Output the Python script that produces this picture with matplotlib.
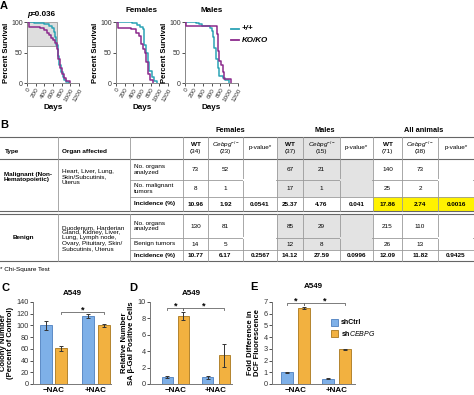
import matplotlib
matplotlib.use('Agg')
import matplotlib.pyplot as plt
from matplotlib.patches import Rectangle
from matplotlib.lines import Line2D
import numpy as np

plt.rcParams['font.family'] = ['Liberation Sans', 'DejaVu Sans']
plt.rcParams['mathtext.fontset'] = 'custom'
plt.rcParams['mathtext.rm'] = 'Liberation Sans'
plt.rcParams['mathtext.it'] = 'Liberation Sans:italic'
plt.rcParams['mathtext.bf'] = 'Liberation Sans:bold'

# ---- panel A: survival curves (days, percent surviving) ----
all_wt_days = [0, 150, 400, 500, 580, 620, 650, 680, 710, 740, 780, 820, 860, 900, 960]
all_wt_surv = [100, 98, 96, 94, 90, 84, 75, 62, 45, 30, 18, 10, 5, 2, 0]
all_ko_days = [0, 40, 300, 400, 450, 500, 550, 600, 650, 690, 720, 760, 800, 850, 900, 1000]
all_ko_surv = [100, 92, 90, 87, 82, 78, 73, 70, 66, 55, 40, 25, 15, 8, 3, 0]
fem_wt_days = [0, 380, 480, 560, 620, 650, 690, 730, 770, 820, 880, 950]
fem_wt_surv = [100, 98, 95, 91, 88, 62, 50, 35, 20, 10, 3, 0]
fem_ko_days = [0, 40, 350, 450, 520, 580, 620, 660, 700, 740, 780, 850]
fem_ko_surv = [100, 90, 88, 82, 77, 64, 56, 50, 35, 15, 5, 0]
mal_wt_days = [0, 250, 320, 380, 560, 600, 630, 660, 700, 740, 780, 850, 900, 1000]
mal_wt_surv = [100, 98, 96, 94, 90, 85, 75, 58, 40, 25, 12, 8, 5, 0]
mal_ko_days = [0, 20, 700, 720, 750, 780, 820, 850, 880, 1000, 1050]
mal_ko_surv = [100, 93, 93, 80, 52, 36, 30, 18, 7, 7, 0]

surv_titles = ['', 'Females', 'Males']
legend_labels = ['+/+', 'KO/KO']

# ---- panel B: tumour incidence table ----
groups = ['Females', 'Males', 'All animals']
n_wt = ['34', '37', '71']
n_ko = ['23', '15', '38']
malignant_wt = [['73', '8', '10.96'], ['67', '17', '25.37'], ['140', '25', '17.86']]
malignant_ko = [['52', '1', '1.92'], ['21', '1', '4.76'], ['73', '2', '2.74']]
malignant_p = ['0.0541', '0.041', '0.0016']
benign_wt = [['130', '14', '10.77'], ['85', '12', '14.12'], ['215', '26', '12.09']]
benign_ko = [['81', '5', '6.17'], ['29', '8', '27.59'], ['110', '13', '11.82']]
benign_p = ['0.2567', '0.0996', '0.9425']

# ---- panels C-E: A549 bars ----
nac = ['\u2212NAC', '+NAC']
c_ctrl, c_ctrl_err = [100, 116], [7, 4]
c_ko, c_ko_err = [61, 100], [4, 3]
d_ctrl, d_ctrl_err = [0.9, 0.8], [0.12, 0.22]
d_ko, d_ko_err = [8.3, 3.5], [0.45, 1.4]
e_ctrl, e_ctrl_err = [1.0, 0.45], [0.03, 0.05]
e_ko, e_ko_err = [6.5, 2.95], [0.06, 0.05]

teal = '#2ba3b5'
purple = '#8b2a8c'
blue, blue_e = '#7eb0e8', '#4d7fbf'
orange, orange_e = '#f2b140', '#a8771c'
grid_c = '#9a9a9a'

W, H = 474, 395
fig = plt.figure(figsize=(W / 100, H / 100), dpi=100)


def rect(x0, y0, x1, y1):
    return [x0 / W, 1 - y1 / H, (x1 - x0) / W, (y1 - y0) / H]


ov = fig.add_axes([0, 0, 1, 1])
ov.set_xlim(0, W)
ov.set_ylim(H, 0)
ov.axis('off')
ov.set_zorder(10)
ov.patch.set_alpha(0)

# ---------------- A ----------------
surv = [(all_wt_days, all_wt_surv, all_ko_days, all_ko_surv),
        (fem_wt_days, fem_wt_surv, fem_ko_days, fem_ko_surv),
        (mal_wt_days, mal_wt_surv, mal_ko_days, mal_ko_surv)]
xs = [(27, 79), (116, 168), (185, 238)]
for i, (wd, ws, kd, ks) in enumerate(surv):
    ax = fig.add_axes(rect(xs[i][0], 22, xs[i][1], 83))
    if i == 0:
        ax.add_patch(Rectangle((0, 60), 700, 40, facecolor='#dedede',
                               edgecolor='#999999', lw=0.6, zorder=0))
    ax.step(wd, ws, where='post', color=teal, lw=1.1, zorder=3)
    ax.step(kd, ks, where='post', color=purple, lw=1.1, zorder=3)
    ax.set_xlim(0, 1200)
    ax.set_ylim(0, 100)
    ax.set_xticks(range(0, 1201, 200))
    ax.set_yticks([0, 50, 100])
    ax.set_xticklabels([str(v) for v in range(0, 1201, 200)], rotation=60,
                       ha='right', rotation_mode='anchor', fontsize=4.6)
    ax.tick_params(axis='y', labelsize=5, length=2, width=0.6, pad=1, colors='#333333')
    ax.tick_params(axis='x', length=2, width=0.6, pad=1, colors='#333333')
    for s in ['top', 'right']:
        ax.spines[s].set_visible(False)
    for s in ['left', 'bottom']:
        ax.spines[s].set_color('#888888')
        ax.spines[s].set_linewidth(0.7)
    ax.set_ylabel('Percent Survival', fontsize=5.5, fontweight='bold', labelpad=1)
    ax.set_xlabel('Days', fontsize=5.8, fontweight='bold', labelpad=1)
    if surv_titles[i]:
        ax.set_title(surv_titles[i], fontsize=5.8, fontweight='bold', pad=7)

ov.text(0, 1, 'A', fontsize=8, fontweight='bold', va='top')
ov.text(27, 14, 'p', fontsize=5.8, fontweight='bold', style='italic', va='center')
ov.text(31, 14, '=0.036', fontsize=5.8, fontweight='bold', va='center')
for j, (lab, col) in enumerate(zip(legend_labels, [teal, purple])):
    y = 29 + j * 11
    ov.add_line(Line2D([231, 239], [y, y], color=col, lw=1.3))
    ov.text(242, y, lab, fontsize=5.8, fontweight='bold', style='italic', va='center')

# ---------------- B ----------------
ov.text(0, 120, 'B', fontsize=8, fontweight='bold', va='top')
cols = [0, 58, 130, 183, 208, 243, 277, 303, 340, 373, 402, 438, 474]
top, hb = 137, 159
m_rows = [159, 180, 197, 211]
b_rows = [214, 238, 250, 261]
fs = 4.6

# shading
for r0, r1 in [(m_rows[0], m_rows[2]), (b_rows[0], b_rows[2])]:
    ov.add_patch(Rectangle((cols[6], r0), cols[9] - cols[6], r1 - r0,
                           facecolor='#e3e3e3', edgecolor='none', zorder=0))
ov.add_patch(Rectangle((cols[6], top), cols[8] - cols[6], hb - top,
                       facecolor='#e3e3e3', edgecolor='none', zorder=0))
ov.add_patch(Rectangle((cols[9], m_rows[2]), cols[12] - cols[9], m_rows[3] - m_rows[2],
                       facecolor='#fff200', edgecolor='none', zorder=0))

lw_t = 0.6
for y in [top, hb, m_rows[3], b_rows[0], b_rows[3]]:
    ov.add_line(Line2D([0, W], [y, y], color='#666666', lw=0.8))
for rows in [m_rows, b_rows]:
    for y in rows[1:3]:
        ov.add_line(Line2D([cols[2], W], [y, y], color=grid_c, lw=lw_t))
for x in cols[1:12]:
    ov.add_line(Line2D([x, x], [top, m_rows[3]], color=grid_c, lw=lw_t))
    ov.add_line(Line2D([x, x], [b_rows[0], b_rows[3]], color=grid_c, lw=lw_t))
# merged p-value cells over the first two rows
for k in [5, 8, 11]:
    x0, x1 = cols[k], cols[k + 1]
    fc = '#e3e3e3' if k == 8 else 'white'
    for rows in [m_rows, b_rows]:
        ov.add_patch(Rectangle((x0 + 0.5, rows[1] - 1), x1 - x0 - 1, 2,
                               facecolor=fc, edgecolor='none', zorder=2))

for g, name in enumerate(groups):
    cx = (cols[3 + 3 * g] + cols[6 + 3 * g]) / 2
    ov.text(cx, 131, name, fontsize=5.3, fontweight='bold', ha='center', va='center')
    cw = (cols[3 + 3 * g] + cols[4 + 3 * g]) / 2
    ck = (cols[4 + 3 * g] + cols[5 + 3 * g]) / 2
    cp = (cols[5 + 3 * g] + cols[6 + 3 * g]) / 2
    ov.text(cw, 145, 'WT', fontsize=fs, fontweight='bold', ha='center', va='center')
    ov.text(cw, 152, '(' + n_wt[g] + ')', fontsize=fs, ha='center', va='center')
    ov.text(ck, 145, r'$\mathbf{\mathit{Cebpg}}^{-/-}$', fontsize=fs, ha='center', va='center')
    ov.text(ck, 152, '(' + n_ko[g] + ')', fontsize=fs, ha='center', va='center')
    ov.text(cp, 148, 'p-value*', fontsize=fs, ha='center', va='center')
    for rows, wt, ko, pv in [(m_rows, malignant_wt, malignant_ko, malignant_p),
                             (b_rows, benign_wt, benign_ko, benign_p)]:
        for r in range(3):
            cy = (rows[r] + rows[r + 1]) / 2
            fw = 'bold' if r == 2 else 'normal'
            ov.text(cw, cy, wt[g][r], fontsize=fs, fontweight=fw, ha='center', va='center')
            ov.text(ck, cy, ko[g][r], fontsize=fs, fontweight=fw, ha='center', va='center')
        ov.text(cp, (rows[2] + rows[3]) / 2, pv[g], fontsize=fs, fontweight='bold',
                ha='center', va='center')

ov.text(5, 151, 'Type', fontsize=fs, fontweight='bold', va='center')
ov.text(62, 151, 'Organ affected', fontsize=fs, fontweight='bold', va='center')
ov.text(4, 177, 'Malignant (Non-\nHematopoietic)', fontsize=fs, fontweight='bold',
        va='center', linespacing=1.1)
ov.text(62, 177, 'Heart, Liver, Lung,\nSkin/Subcutinis,\nUterus', fontsize=fs,
        va='center', linespacing=1.1)
ov.text(13, 238, 'Benign', fontsize=fs, fontweight='bold', va='center')
ov.text(62, 238, 'Duodenum, Harderian\nGland, Kidney, Liver,\nLung, Lymph node,\n'
        'Ovary, Pituitary, Skin/\nSubcutinis, Uterus', fontsize=fs, va='center',
        linespacing=1.05)
for rows, labs in [(m_rows, ['No. organs\nanalyzed', 'No. malignant\ntumors', 'Incidence (%)']),
                   (b_rows, ['No. organs\nanalyzed', 'Benign tumors', 'Incidence (%)'])]:
    for r in range(3):
        ov.text(134, (rows[r] + rows[r + 1]) / 2, labs[r], fontsize=fs,
                fontweight='bold' if r == 2 else 'normal', va='center', linespacing=1.1)
ov.text(0, 269, '* Chi-Square Test', fontsize=fs, va='center')


# ---------------- C, D, E ----------------
def bars(x0, x1, ylim, yticks, ctrl, ctrl_err, ko, ko_err, off, w, xl, ylabel, tpad):
    ax = fig.add_axes(rect(x0, 302, x1, 384))
    ax.patch.set_alpha(0)
    x = np.arange(len(nac))
    ax.bar(x - off, ctrl, w, yerr=ctrl_err, color=blue, edgecolor=blue_e, lw=0.6,
           error_kw=dict(ecolor='#333333', elinewidth=0.7, capsize=1.5, capthick=0.7))
    ax.bar(x + off, ko, w, yerr=ko_err, color=orange, edgecolor=orange_e, lw=0.6,
           error_kw=dict(ecolor='#333333', elinewidth=0.7, capsize=1.5, capthick=0.7))
    ax.set_xlim(*xl)
    ax.set_ylim(0, ylim)
    ax.set_yticks(yticks)
    ax.set_xticks(x)
    ax.set_xticklabels(nac, fontsize=5.8, fontweight='bold')
    ax.tick_params(axis='x', length=0, pad=2)
    ax.tick_params(axis='y', labelsize=5.3, length=2, width=0.6, pad=1, colors='#333333')
    for s in ['top', 'right']:
        ax.spines[s].set_visible(False)
    for s in ['left', 'bottom']:
        ax.spines[s].set_color('#777777')
        ax.spines[s].set_linewidth(0.7)
    ax.set_ylabel(ylabel, fontsize=5.5, fontweight='bold', labelpad=2, linespacing=1.0)
    ax.set_title('A549', fontsize=5.8, fontweight='bold', pad=tpad)
    return ax


def bracket(ax, xa, xb, y, h):
    ax.plot([xa, xa, xb, xb], [y - h, y, y, y - h], color='#666666', lw=0.6, clip_on=False)
    ax.text((xa + xb) / 2, y + h * 0.8, '*', fontsize=6.5, fontweight='bold', ha='center',
            va='center', clip_on=False)


axc = bars(33, 111, 140, range(0, 141, 20), c_ctrl, c_ctrl_err, c_ko, c_ko_err,
           0.185, 0.286, (-0.49, 1.36), 'Colony Number\n(Percent of Control)', 5)
bracket(axc, 0.185, 1.185, 123, 4)

axd = bars(150, 232, 10, range(0, 11, 2), d_ctrl, d_ctrl_err, d_ko, d_ko_err,
           0.2, 0.27, (-0.62, 1.39), 'Relative Number\nSA \u03b2-Gal Positive Cells', 5)
bracket(axd, -0.2, 0.2, 9.3, 0.3)
bracket(axd, 0.2, 1.2, 9.3, 0.3)

axe = bars(272, 355, 7, range(0, 8), e_ctrl, e_ctrl_err, e_ko, e_ko_err,
           0.21, 0.29, (-0.58, 1.46), 'Fold Difference in\nDCF Fluorescence', 10)
bracket(axe, -0.21, 0.21, 6.95, 0.2)
bracket(axe, 0.21, 1.21, 6.95, 0.2)

ov.text(1, 283, 'C', fontsize=8, fontweight='bold', va='top')
ov.text(129, 283, 'D', fontsize=8, fontweight='bold', va='top')
ov.text(250, 282, 'E', fontsize=8, fontweight='bold', va='top')

for j, (fc, ec) in enumerate([(blue, blue_e), (orange, orange_e)]):
    y = 322 + j * 11
    ov.add_patch(Rectangle((331, y - 3.5), 7, 7, facecolor=fc, edgecolor=ec, lw=0.6))
ov.text(341, 322, 'shCtrl', fontsize=5, fontweight='bold', va='center')
ov.text(341, 333, r'sh$\mathbf{\mathit{CEBPG}}$', fontsize=5, fontweight='bold', va='center')

fig.savefig('out.png', dpi=100)
